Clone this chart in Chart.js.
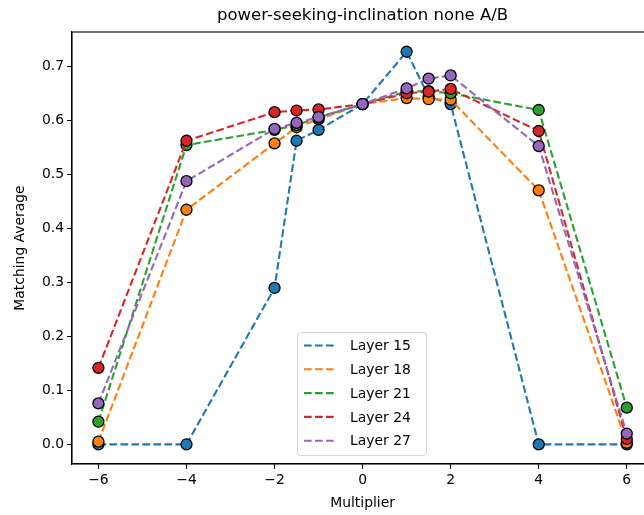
<!DOCTYPE html>
<html lang="en">
<head>
  <meta charset="UTF-8" />
  <title>power-seeking-inclination none A/B</title>
  <style>
    html, body { margin: 0; padding: 0; background: #fff; overflow: hidden; }
    #wrap { width: 644px; height: 515px; overflow: hidden; }
  </style>
</head>
<body>
  <div id="wrap">
    <canvas id="chart" width="660" height="515"></canvas>
  </div>

  <script src="https://cdn.jsdelivr.net/npm/chart.js"></script>
  <script>
    // values
    const multipliers = [-6, -4, -2, -1.5, -1, 0, 1, 1.5, 2, 4, 6];
    const layerNames = ['Layer 15', 'Layer 18', 'Layer 21', 'Layer 24', 'Layer 27'];
    const layer15 = [0.000, 0.000, 0.290, 0.563, 0.583, 0.631, 0.728, 0.645, 0.631, 0.000, 0.000];
    const layer18 = [0.005, 0.435, 0.558, 0.588, 0.603, 0.631, 0.642, 0.640, 0.639, 0.471, 0.003];
    const layer21 = [0.042, 0.555, 0.583, 0.592, 0.606, 0.631, 0.654, 0.655, 0.651, 0.620, 0.068];
    const layer24 = [0.142, 0.563, 0.616, 0.619, 0.621, 0.631, 0.651, 0.654, 0.659, 0.581, 0.010];
    const layer27 = [0.076, 0.488, 0.585, 0.596, 0.607, 0.631, 0.660, 0.678, 0.684, 0.553, 0.020];
    const xTicks = [-6, -4, -2, 0, 2, 4, 6];
    const yTicks = [0, 0.1, 0.2, 0.3, 0.4, 0.5, 0.6, 0.7];

    const colors = ['#1f77b4', '#ff7f0e', '#2ca02c', '#d62728', '#9467bd'];
    const series = [layer15, layer18, layer21, layer24, layer27];
    const FONT = "'DejaVu Sans', sans-serif";
    const dash = [7.7, 3.3];

    const datasets = series.map((vals, i) => ({
      label: layerNames[i],
      data: multipliers.map((x, j) => ({ x: x, y: vals[j] })),
      borderColor: colors[i],
      backgroundColor: colors[i],
      borderWidth: 2.1,
      borderDash: dash,
      pointRadius: 5.5,
      pointBorderColor: '#000',
      pointBorderWidth: 1.3,
      pointBackgroundColor: colors[i],
      tension: 0,
      order: series.length - 1 - i
    }));

    // title, frame and in-plot legend like matplotlib
    const extras = {
      id: 'extras',
      afterDraw(chart) {
        const ctx = chart.ctx;
        const a = chart.chartArea;
        ctx.save();
        ctx.strokeStyle = '#000';
        ctx.lineWidth = 1.1;
        ctx.strokeRect(a.left, a.top, a.right - a.left, a.bottom - a.top);

        ctx.fillStyle = '#000';
        ctx.font = '16.5px ' + FONT;
        ctx.textAlign = 'center';
        ctx.textBaseline = 'alphabetic';
        ctx.fillText('power-seeking-inclination none A/B', (a.left + a.right) / 2, 20);

        // legend box
        const bx = 297.5, by = 332.5, bw = 129, bh = 123;
        ctx.beginPath();
        ctx.roundRect(bx, by, bw, bh, 3);
        ctx.fillStyle = 'rgba(255,255,255,0.8)';
        ctx.fill();
        ctx.strokeStyle = 'rgba(204,204,204,0.8)';
        ctx.lineWidth = 1;
        ctx.stroke();

        ctx.font = '13.9px ' + FONT;
        ctx.textAlign = 'left';
        ctx.textBaseline = 'middle';
        layerNames.forEach((name, i) => {
          const y = 345.5 + i * 23.8;
          ctx.beginPath();
          ctx.setLineDash(dash);
          ctx.strokeStyle = colors[i];
          ctx.lineWidth = 2.1;
          ctx.moveTo(304, y);
          ctx.lineTo(337, y);
          ctx.stroke();
          ctx.setLineDash([]);
          ctx.fillStyle = '#000';
          ctx.fillText(name, 350, y + 1);
        });
        ctx.restore();
      }
    };

    new Chart(document.getElementById('chart').getContext('2d'), {
      type: 'line',
      data: { datasets: datasets },
      options: {
        responsive: false,
        animation: false,
        layout: { padding: { top: 32, right: 4, left: 0, bottom: 0 } },
        plugins: {
          legend: { display: false },
          tooltip: { enabled: false },
          title: { display: false }
        },
        scales: {
          x: {
            type: 'linear',
            min: -6.6,
            max: 6.6,
            afterBuildTicks: s => { s.ticks = xTicks.map(v => ({ value: v })); },
            afterFit: s => { s.height = 51; },
            grid: { drawOnChartArea: false, drawTicks: true, tickLength: 5, color: '#000', tickWidth: 1 },
            border: { display: true, color: '#000', width: 1.1 },
            ticks: {
              color: '#000',
              padding: 3,
              maxRotation: 0,
              font: { family: FONT, size: 13.9 },
              callback: v => String(v).replace('-', '\u2212')
            },
            title: {
              display: true,
              text: 'Multiplier',
              color: '#000',
              font: { family: FONT, size: 13.9 },
              padding: { top: 0, bottom: 3 }
            }
          },
          y: {
            type: 'linear',
            min: -0.0364,
            max: 0.7646,
            afterBuildTicks: s => { s.ticks = yTicks.map(v => ({ value: v })); },
            afterFit: s => { s.width = 72; },
            grid: { drawOnChartArea: false, drawTicks: true, tickLength: 5, color: '#000', tickWidth: 1 },
            border: { display: true, color: '#000', width: 1.1 },
            ticks: {
              color: '#000',
              padding: 3,
              font: { family: FONT, size: 13.9 },
              callback: v => v.toFixed(1)
            },
            title: {
              display: true,
              text: 'Matching Average',
              color: '#000',
              font: { family: FONT, size: 13.9 },
              padding: { top: 12, bottom: 0 }
            }
          }
        }
      },
      plugins: [extras]
    });
  </script>
</body>
</html>
